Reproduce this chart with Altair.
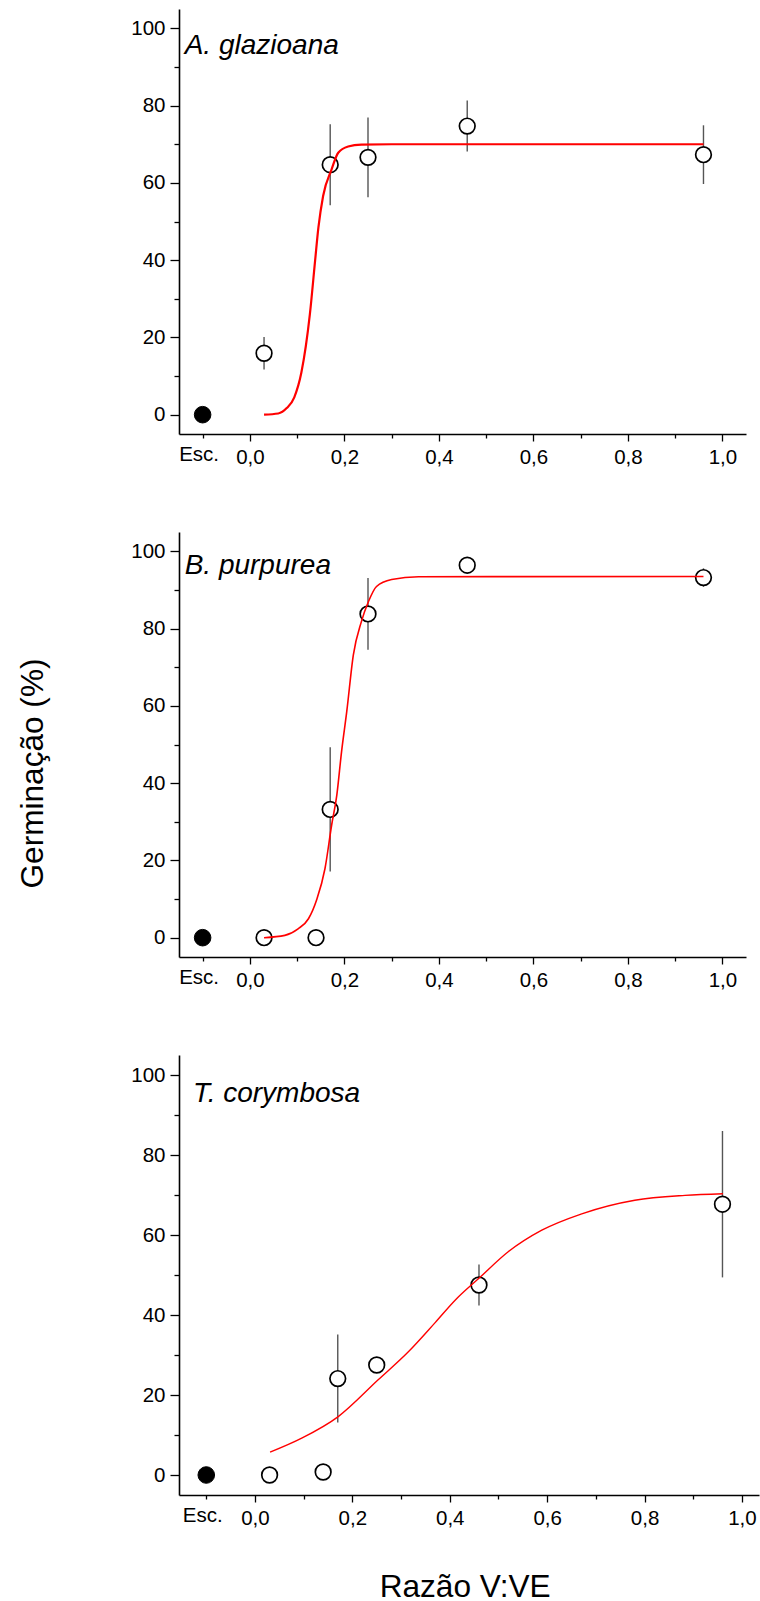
import altair as alt
import pandas as pd

FONT = "Liberation Sans"

# Tick values (x: "Esc." sits at -0.1)
x_tick_values = [-0.1, 0.0, 0.1, 0.2, 0.3, 0.4, 0.5, 0.6, 0.7, 0.8, 0.9, 1.0]
y_tick_values = [0, 10, 20, 30, 40, 50, 60, 70, 80, 90, 100]

# Dark (Esc.) control point
esc_x = [-0.1]
esc_y = [0.0]

# Panel A. glazioana
a_x = [0.03, 0.17, 0.25, 0.46, 0.96]
a_y = [15.9, 64.7, 66.6, 74.7, 67.3]
a_err = [4.2, 10.5, 10.3, 6.6, 7.6]
a_curve_x = [0.030, 0.060, 0.078, 0.094, 0.109, 0.127, 0.138, 0.145, 0.155,
             0.173, 0.187, 0.208, 0.236, 0.300, 0.960]
a_curve_y = [0.0, 0.3, 1.7, 4.5, 10.9, 26.0, 39.8, 48.4, 56.6,
             63.5, 67.8, 69.4, 69.9, 70.0, 70.0]

# Panel B. purpurea
b_x = [0.03, 0.14, 0.17, 0.25, 0.46, 0.96]
b_y = [0.0, 0.0, 33.2, 83.8, 96.4, 93.2]
b_err = [0.0, 0.0, 16.1, 9.3, 2.0, 2.4]
b_curve_x = [0.030, 0.074, 0.102, 0.124, 0.141, 0.159, 0.173, 0.184, 0.194,
             0.205, 0.219, 0.236, 0.251, 0.268, 0.300, 0.357, 0.960]
b_curve_y = [0.0, 0.6, 2.3, 4.9, 9.7, 17.9, 29.1, 36.9, 48.1,
             58.5, 73.2, 81.8, 87.0, 90.9, 92.7, 93.4, 93.5]

# Panel T. corymbosa
t_x = [0.03, 0.14, 0.17, 0.25, 0.46, 0.96]
t_y = [0.0, 0.75, 24.1, 27.5, 47.5, 67.7]
t_err = [0.0, 0.0, 11.0, 0.0, 5.1, 18.3]
t_curve_x = [0.031, 0.096, 0.171, 0.253, 0.315, 0.370, 0.411, 0.461, 0.520,
             0.589, 0.671, 0.780, 0.883, 0.961]
t_curve_y = [5.7, 9.2, 14.6, 23.8, 30.8, 38.1, 43.7, 49.3, 55.8,
             61.2, 65.3, 68.7, 69.9, 70.3]

species = ["A. glazioana", "B. purpurea", "T. corymbosa"]
label_x = [-0.138, -0.138, -0.127]
label_y = [93.4, 94.1, 93.2]

X_MAJOR = "datum.value > -0.05 && round(datum.value * 10) % 2 === 0"
X_LABEL = ("datum.value < -0.05 ? 'Esc.' : (round(datum.value * 10) % 2 === 0 ? "
           "replace(format(datum.value, '.1f'), '.', ',') : '')")


def make_panel(idx, xs, ys, errs, cx, cy, x_dom, w, h, lw, y_title=False, x_title=False):
    pts = pd.DataFrame({"x": xs, "y": ys, "err": errs})
    pts["lo"] = pts["y"] - pts["err"]
    pts["hi"] = pts["y"] + pts["err"]
    errdf = pts[pts["err"] > 0]
    curve = pd.DataFrame({"x": cx, "y": cy})
    esc = pd.DataFrame({"x": esc_x, "y": esc_y})
    lab = pd.DataFrame({"x": [label_x[idx]], "y": [label_y[idx]], "t": [species[idx]]})

    xaxis_kw = dict(
        values=x_tick_values, labelExpr=X_LABEL,
        tickSize={"condition": {"test": X_MAJOR, "value": 7}, "value": 4},
        labelOffset={"condition": {"test": "datum.value < -0.05", "value": -4}, "value": 0},
        labelPadding=6, labelFontSize=20.5, grid=False,
        title="",
    )
    if x_title:
        xaxis_kw.update(title="Razão V:VE", titleFontSize=31.6, titleFont=FONT,
                        titleFontWeight="normal", titleColor="black",
                        titleX=285.6, titleY=101, titleBaseline="alphabetic",
                        titleAlign="center")
    yaxis_kw = dict(
        values=y_tick_values,
        labelExpr="datum.value % 20 === 0 ? datum.label : ''",
        tickSize={"condition": {"test": "datum.value % 20 === 0", "value": 9}, "value": 5},
        labelPadding=5, labelFontSize=20.5, grid=False, title="",
    )
    if y_title:
        yaxis_kw.update(title="Germinação (%)", titleFontSize=31.6, titleFont=FONT,
                        titleFontWeight="normal", titleColor="black",
                        titleAngle=270, titleX=-137, titleY=241,
                        titleBaseline="alphabetic", titleAlign="center")

    xs_ = alt.Scale(domain=x_dom, nice=False, zero=False)
    ys_ = alt.Scale(domain=[-5, 105], nice=False, zero=False)
    X = alt.X("x:Q", scale=xs_, axis=alt.Axis(**xaxis_kw))
    Y = alt.Y("y:Q", scale=ys_, axis=alt.Axis(**yaxis_kw))

    bars = alt.Chart(errdf).mark_rule(color="#555555", strokeWidth=1.4).encode(
        x=alt.X("x:Q", scale=xs_), y=alt.Y("lo:Q", scale=ys_), y2="hi:Q")
    circles = alt.Chart(pts).mark_point(
        shape="circle", size=245, filled=True, fill="white", stroke="black",
        strokeWidth=1.7, opacity=1).encode(x=X, y=Y)
    dark = alt.Chart(esc).mark_point(
        shape="circle", size=275, filled=True, fill="black", stroke="black",
        strokeWidth=1, opacity=1).encode(x=alt.X("x:Q", scale=xs_), y=alt.Y("y:Q", scale=ys_))
    line = alt.Chart(curve).mark_line(color="#ff0000", strokeWidth=lw,
                                      interpolate="monotone").encode(
        x=alt.X("x:Q", scale=xs_), y=alt.Y("y:Q", scale=ys_))
    text = alt.Chart(lab).mark_text(
        align="left", baseline="alphabetic", fontStyle="italic", fontSize=28,
        font=FONT, color="black").encode(
        x=alt.X("x:Q", scale=xs_), y=alt.Y("y:Q", scale=ys_), text="t:N")
    return alt.layer(bars, circles, dark, line, text).properties(width=w, height=h)


p1 = make_panel(0, a_x, a_y, a_err, a_curve_x, a_curve_y, [-0.15, 1.05], 567, 425, 2.2)
p2 = make_panel(1, b_x, b_y, b_err, b_curve_x, b_curve_y, [-0.15, 1.05], 567, 425, 1.6,
                y_title=True)
p3 = make_panel(2, t_x, t_y, t_err, t_curve_x, t_curve_y, [-0.156, 1.035], 580, 440, 1.4,
                x_title=True)

chart = alt.vconcat(p1, p2, p3, spacing=98, bounds="flush").properties(
    padding={"left": 16, "top": 8, "right": 0, "bottom": 0},
    background="white",
).configure_view(stroke="transparent").configure_axis(
    labelFont=FONT, labelColor="black", domainColor="black", domainWidth=1.6,
    tickColor="black", tickWidth=1.3,
)

chart.save("out.html", embed_options={"renderer": "svg", "actions": False})
